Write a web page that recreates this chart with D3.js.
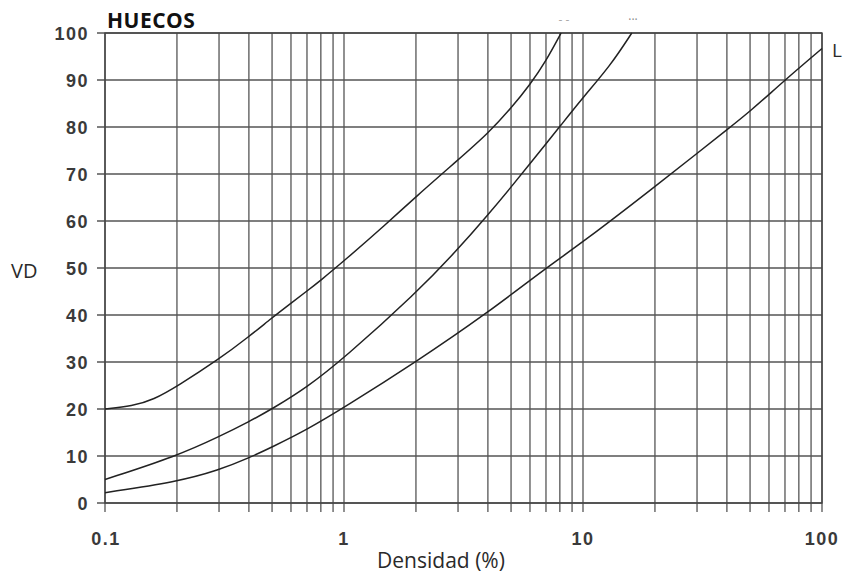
<!DOCTYPE html>
<html>
<head>
<meta charset="utf-8">
<script src="https://cdn.jsdelivr.net/npm/d3@7"></script>
<style>
    body { margin: 0; background: #fff; }
    svg { display: block; }
</style>
</head>
<body>
<svg width="847" height="579"></svg>
<script>
// values
let xTickValues = [0.1, 1, 10, 100];
let xTickLabels = ["0.1", "1", "10", "100"];
let yTickValues = [0, 10, 20, 30, 40, 50, 60, 70, 80, 90, 100];

let curveTopX = [0.1, 0.13, 0.16, 0.2, 0.3, 0.4, 0.5, 0.6, 0.7, 0.8, 1, 1.5, 2, 3, 4, 5, 6, 7, 8.1];
let curveTopY = [20, 20.6, 22, 24.8, 30.6, 35.4, 39.4, 42.5, 45.1, 47.4, 51.5, 59.3, 65.2, 73, 78.6, 84, 89, 94, 100];

let curveMidX = [0.1, 0.2, 0.3, 0.4, 0.5, 0.7, 1, 2, 3, 4, 5, 6, 7, 8, 10, 13, 16];
let curveMidY = [5, 10, 14.1, 17.3, 20, 24.6, 30.8, 44.6, 54, 61.3, 67.2, 72.2, 76.4, 80.1, 86.3, 93, 100];

let curveLowX = [0.1, 0.2, 0.3, 0.4, 0.5, 0.7, 1, 2, 4, 7, 10, 20, 30, 40, 50, 70, 100];
let curveLowY = [2.2, 4.5, 7, 9.6, 11.9, 15.6, 20.3, 30, 40.5, 50, 55.5, 67.3, 74.4, 79.4, 83.3, 90, 96.7];

function onload() {
    let svg = d3.select("svg");
    let x = d3.scaleLog().domain([0.1, 100]).range([105, 822]);
    let y = d3.scaleLinear().domain([0, 100]).range([503, 33]);

    // every log grid line: 0.1, 0.2 ... 1, 2 ... 100
    let minor = x.ticks();

    svg.append("g")
        .selectAll("line")
        .data(minor)
        .enter()
        .append("line")
        .attr("x1", d => x(d))
        .attr("x2", d => x(d))
        .attr("y1", y(100))
        .attr("y2", y(0) + 9)
        .style("stroke", "#555")
        .style("stroke-width", 1.3);

    svg.append("g")
        .selectAll("line")
        .data(yTickValues)
        .enter()
        .append("line")
        .attr("x1", x(0.1) - 8)
        .attr("x2", x(100))
        .attr("y1", d => y(d))
        .attr("y2", d => y(d))
        .style("stroke", "#555")
        .style("stroke-width", 1.3);

    svg.append("rect")
        .attr("x", x(0.1))
        .attr("y", y(100))
        .attr("width", x(100) - x(0.1))
        .attr("height", y(0) - y(100))
        .style("fill", "none")
        .style("stroke", "#444")
        .style("stroke-width", 1.4);

    let line = d3.line()
        .x(d => x(d[0]))
        .y(d => y(d[1]))
        .curve(d3.curveBasis);

    let curves = [
        d3.zip(curveTopX, curveTopY),
        d3.zip(curveMidX, curveMidY),
        d3.zip(curveLowX, curveLowY)
    ];

    svg.append("g")
        .selectAll("path")
        .data(curves)
        .enter()
        .append("path")
        .attr("d", line)
        .style("fill", "none")
        .style("stroke", "#222")
        .style("stroke-width", 1.5);

    svg.append("g")
        .selectAll("text")
        .data(yTickValues)
        .enter()
        .append("text")
        .attr("x", 89)
        .attr("y", d => y(d) + 7)
        .attr("text-anchor", "end")
        .style("font-family", "Liberation Sans, Arial, sans-serif")
        .style("font-weight", "bold")
        .style("font-size", "18px")
        .style("letter-spacing", "1.5px")
        .style("fill", "#3a3a3a")
        .text(d => d);

    svg.append("g")
        .selectAll("text")
        .data(xTickValues)
        .enter()
        .append("text")
        .attr("x", (d, n) => x(d) + (n === 0 ? 1 : 0))
        .attr("y", 545)
        .attr("text-anchor", "middle")
        .style("font-family", "Liberation Sans, Arial, sans-serif")
        .style("font-weight", "bold")
        .style("font-size", "18px")
        .style("letter-spacing", "1.5px")
        .style("fill", "#3a3a3a")
        .text((d, n) => xTickLabels[n]);

    svg.append("text")
        .attr("x", 441)
        .attr("y", 568)
        .attr("text-anchor", "middle")
        .style("font-family", "Open Sans, sans-serif")
        .style("font-size", "21px")
        .style("fill", "#2a2a2a")
        .text("Densidad (%)");

    svg.append("text")
        .attr("x", 11)
        .attr("y", 278)
        .style("font-family", "Open Sans, sans-serif")
        .style("font-size", "20px")
        .style("fill", "#2a2a2a")
        .text("VD");

    svg.append("text")
        .attr("x", 107)
        .attr("y", 28)
        .style("font-family", "Open Sans, sans-serif")
        .style("font-weight", "bold")
        .style("font-size", "21px")
        .style("letter-spacing", "0.5px")
        .style("fill", "#111")
        .text("HUECOS");

    svg.append("text")
        .attr("x", 832)
        .attr("y", 57)
        .style("font-family", "Open Sans, sans-serif")
        .style("font-size", "19px")
        .style("fill", "#2a2a2a")
        .text("L");

    // faint marks above the plot in the scan
    svg.append("text")
        .attr("x", 564)
        .attr("y", 24)
        .attr("text-anchor", "middle")
        .style("font-family", "Open Sans, sans-serif")
        .style("font-size", "12px")
        .style("fill", "#aaa")
        .text("- -");

    svg.append("text")
        .attr("x", 633)
        .attr("y", 24)
        .attr("text-anchor", "middle")
        .style("font-family", "Open Sans, sans-serif")
        .style("font-size", "12px")
        .style("fill", "#888")
        .text("···");
}

onload();
</script>
</body>
</html>
